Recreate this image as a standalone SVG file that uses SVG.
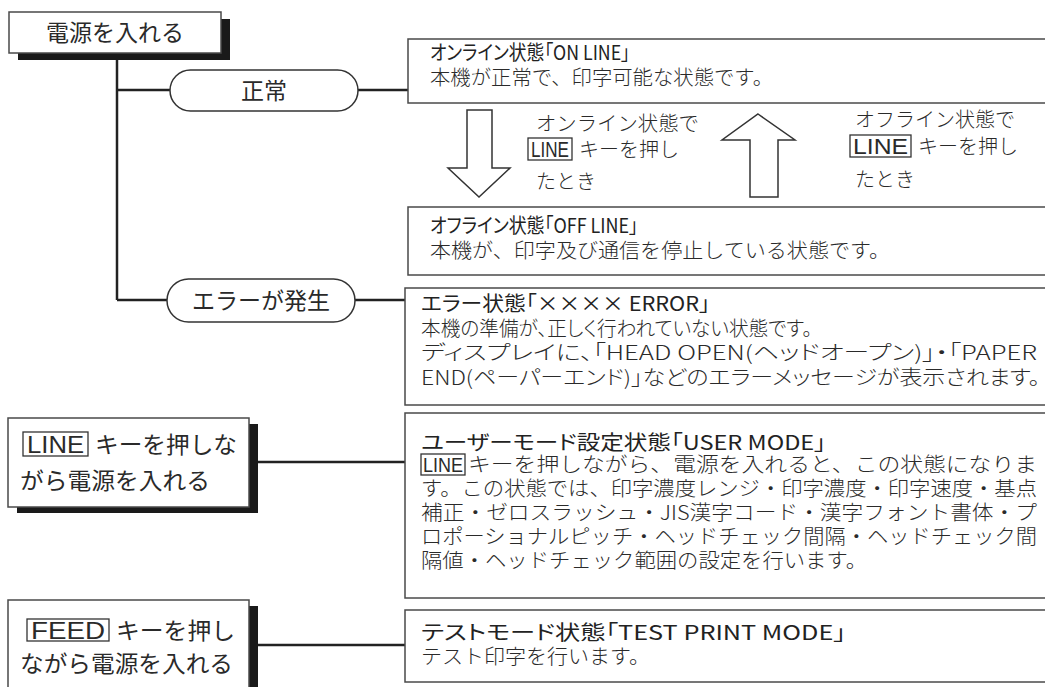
<svg xmlns="http://www.w3.org/2000/svg" width="1045" height="687" viewBox="0 0 1045 687">
<style>
.bg{fill:#fff}
.box{fill:#fff;stroke:#4a4a4a;stroke-width:1.5}
.shadow{fill:#1a1a1a}
.pill{fill:#fff;stroke:#333;stroke-width:1.5}
.key{fill:none;stroke:#333;stroke-width:1.3}
.conn{stroke:#222;stroke-width:2.5;fill:none}
.arrow{fill:#fff;stroke:#333;stroke-width:1.5}
text{font-family:"Noto Sans CJK JP","Noto Sans",sans-serif;fill:#2a2a2a}
.big{font-size:23px}
.t{font-size:20px;font-weight:400;fill:#222}
.b{font-size:20px;font-weight:300}
.p{font-feature-settings:"palt"}
.k{font-family:"Liberation Sans","Noto Sans",sans-serif;font-weight:400}
</style>
<rect class="bg" x="0" y="0" width="1045" height="687"/>

<g id="connectors">
  <path class="conn" d="M117 60 V300"/>
  <path class="conn" d="M117 90 H170 M358 90 H408"/>
  <path class="conn" d="M117 300 H167 M355 300 H405"/>
  <path class="conn" d="M258 462 H405"/>
  <path class="conn" d="M258 645 H405"/>
</g>

<g id="power-on">
  <rect class="shadow" x="18" y="19" width="212" height="41"/>
  <rect class="box" x="9" y="12" width="212" height="41"/>
  <text class="big" x="115" y="41" text-anchor="middle">電源を入れる</text>
</g>

<g id="normal">
  <rect class="pill" x="170" y="70" width="188" height="41" rx="20.5"/>
  <text class="big" x="264" y="99" text-anchor="middle">正常</text>
</g>

<g id="error-occur">
  <rect class="pill" x="167" y="279" width="188" height="43" rx="21.5"/>
  <text class="big" x="261" y="309" text-anchor="middle">エラーが発生</text>
</g>

<g id="online">
  <rect class="box" x="408" y="39" width="660" height="64"/>
  <text class="t p" x="430" y="60" textLength="200" lengthAdjust="spacingAndGlyphs">オンライン状態「ON LINE」</text>
  <text class="b" x="430" y="85" textLength="343" lengthAdjust="spacingAndGlyphs">本機が正常で、印字可能な状態です。</text>
</g>

<g id="to-offline">
  <polygon class="arrow" points="467,110 492,110 492,168 510,168 479,197 448,168 467,168"/>
  <text class="b" x="536" y="131" textLength="163" lengthAdjust="spacingAndGlyphs">オンライン状態で</text>
  <rect class="key" x="528" y="138" width="44" height="22"/>
  <text class="k" x="531" y="157" font-size="22" textLength="38" lengthAdjust="spacingAndGlyphs">LINE</text>
  <text class="b" x="579" y="157">キーを押し</text>
  <text class="b" x="536" y="189">たとき</text>
</g>

<g id="to-online">
  <polygon class="arrow" points="758,114 795,140 778,140 778,197 750,197 750,140 722,140"/>
  <text class="b" x="855" y="127" textLength="160" lengthAdjust="spacingAndGlyphs">オフライン状態で</text>
  <rect class="key" x="850" y="135" width="61" height="22"/>
  <text class="k" x="853" y="154" font-size="22" textLength="55" lengthAdjust="spacingAndGlyphs">LINE</text>
  <text class="b" x="918" y="154">キーを押し</text>
  <text class="b" x="855" y="187">たとき</text>
</g>

<g id="offline">
  <rect class="box" x="408" y="207" width="660" height="68"/>
  <text class="t p" x="430" y="233" textLength="208" lengthAdjust="spacingAndGlyphs">オフライン状態「OFF LINE」</text>
  <text class="b" x="430" y="258" textLength="460" lengthAdjust="spacingAndGlyphs">本機が、印字及び通信を停止している状態です。</text>
</g>

<g id="error">
  <rect class="box" x="405" y="288" width="660" height="117"/>
  <text class="t p" x="421" y="311" textLength="289" lengthAdjust="spacingAndGlyphs">エラー状態「×××× ERROR」</text>
  <text class="b p" x="421" y="336" textLength="391" lengthAdjust="spacingAndGlyphs">本機の準備が、正しく行われていない状態です。</text>
  <text class="b p" x="421" y="360" textLength="616" lengthAdjust="spacingAndGlyphs">ディスプレイに、「HEAD OPEN(ヘッドオープン)」・「PAPER</text>
  <text class="b p" x="421" y="385" textLength="619" lengthAdjust="spacingAndGlyphs">END(ペーパーエンド)」などのエラーメッセージが表示されます。</text>
</g>

<g id="line-power">
  <rect class="shadow" x="17" y="424" width="241" height="89"/>
  <rect class="box" x="8" y="418" width="241" height="89"/>
  <rect class="key" x="23" y="432" width="65" height="24"/>
  <text class="big k" x="27" y="453" font-size="25" textLength="57" lengthAdjust="spacingAndGlyphs">LINE</text>
  <text class="big" x="95" y="453" textLength="142" lengthAdjust="spacingAndGlyphs">キーを押しな</text>
  <text class="big" x="20" y="489" textLength="190" lengthAdjust="spacingAndGlyphs">がら電源を入れる</text>
</g>

<g id="user-mode">
  <rect class="box" x="405" y="413" width="660" height="185"/>
  <text class="t p" x="421" y="450" textLength="405" lengthAdjust="spacingAndGlyphs">ユーザーモード設定状態「USER MODE」</text>
  <rect class="key" x="421" y="454" width="44" height="21"/>
  <text class="k" x="423" y="472" font-size="21" textLength="40" lengthAdjust="spacingAndGlyphs">LINE</text>
  <text class="b" x="468" y="472" textLength="569" lengthAdjust="spacingAndGlyphs">キーを押しながら、電源を入れると、この状態になりま</text>
  <text class="b" x="421" y="496" textLength="616" lengthAdjust="spacingAndGlyphs">す。この状態では、印字濃度レンジ・印字濃度・印字速度・基点</text>
  <text class="b" x="421" y="520" textLength="616" lengthAdjust="spacingAndGlyphs">補正・ゼロスラッシュ・JIS漢字コード・漢字フォント書体・プ</text>
  <text class="b" x="421" y="544" textLength="616" lengthAdjust="spacingAndGlyphs">ロポーショナルピッチ・ヘッドチェック間隔・ヘッドチェック間</text>
  <text class="b" x="421" y="568" textLength="446" lengthAdjust="spacingAndGlyphs">隔値・ヘッドチェック範囲の設定を行います。</text>
</g>

<g id="feed-power">
  <rect class="shadow" x="17" y="606" width="241" height="90"/>
  <rect class="box" x="8" y="600" width="241" height="100"/>
  <rect class="key" x="27" y="619" width="82" height="22"/>
  <text class="big k" x="31" y="639" font-size="25" textLength="74" lengthAdjust="spacingAndGlyphs">FEED</text>
  <text class="big" x="116" y="639" textLength="119" lengthAdjust="spacingAndGlyphs">キーを押し</text>
  <text class="big" x="20" y="672" textLength="213" lengthAdjust="spacingAndGlyphs">ながら電源を入れる</text>
</g>

<g id="test-mode">
  <rect class="box" x="405" y="610" width="660" height="72"/>
  <text class="t p" x="421" y="640" textLength="425" lengthAdjust="spacingAndGlyphs">テストモード状態「TEST PRINT MODE」</text>
  <text class="b" x="421" y="664" textLength="229" lengthAdjust="spacingAndGlyphs">テスト印字を行います。</text>
</g>
</svg>
